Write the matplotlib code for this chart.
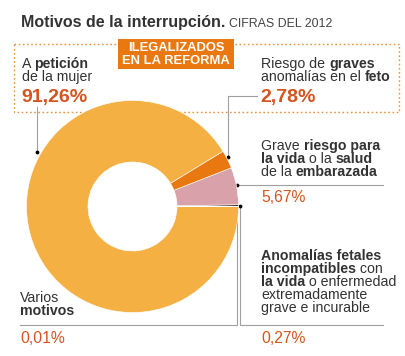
import matplotlib
matplotlib.use("Agg")
import matplotlib.pyplot as plt
from matplotlib.patches import Rectangle

# ---- data ----
categories = ["Anomalías fetales incompatibles", "Grave riesgo embarazada",
              "Riesgo graves anomalías feto", "A petición de la mujer", "Varios motivos"]
values = [0.27, 5.67, 2.78, 91.26, 0.01]
value_labels = ["0,27%", "5,67%", "2,78%", "91,26%", "0,01%"]
colors = ["#3b2f28", "#D9A1A9", "#EA7810", "#F5B043", "#3b2f28"]

FONT = "Liberation Sans"
DARK = "#333333"
RED = "#D4541F"
GRAY = "#A0A0A0"
W, H = 405, 356
BODY = 10.2

fig = plt.figure(figsize=(W / 100, H / 100), dpi=100)
bg = fig.add_axes([0, 0, 1, 1])
bg.set_xlim(0, W)
bg.set_ylim(H, 0)
bg.axis("off")

# pie axes: center (132.5, 206.5), radius 106
cx, cy, r = 132.5, 206.5, 106
pax = fig.add_axes([(cx - r) / W, (H - cy - r) / H, 2 * r / W, 2 * r / H])
pax.pie(values, colors=colors, startangle=0, counterclock=True,
        wedgeprops=dict(width=0.58, edgecolor="white", linewidth=0.4), radius=1.0)
pax.set_xlim(-1, 1)
pax.set_ylim(-1, 1)
pax.set_aspect("equal")
pax.axis("off")

renderer = fig.canvas.get_renderer()


def rich(x, y, segments, size=BODY, color=DARK):
    for txt, bold in segments:
        t = bg.text(x, y, txt, fontsize=size, fontfamily=FONT, color=color,
                    fontweight="bold" if bold else "normal", va="baseline", ha="left")
        x += t.get_window_extent(renderer).width


# title
rich(21, 27, [("Motivos de la interrupción.", True)], size=11.5, color=DARK)
bg.text(229, 27, "CIFRAS DEL 2012", fontsize=8.9, fontfamily=FONT, color="#444444", va="baseline")

# dotted box
bg.add_patch(Rectangle((14, 44), 385, 68, fill=False, edgecolor="#E8913E",
                       linestyle=(0, (1.2, 1.8)), linewidth=1.0))
# orange label box
bg.add_patch(Rectangle((118, 39), 116, 30, facecolor="#EA7810", edgecolor="none"))
bg.text(176, 51, "ILEGALIZADOS", fontsize=9.4, fontfamily=FONT, fontweight="bold",
        color="white", ha="center", va="baseline")
bg.text(176, 64.5, "EN LA REFORMA", fontsize=9.4, fontfamily=FONT, fontweight="bold",
        color="white", ha="center", va="baseline")

# A petición
rich(22, 68, [("A ", False), ("petición", True)])
rich(22, 81, [("de la mujer", False)])
bg.text(21, 102, value_labels[3], fontsize=14, fontfamily=FONT, fontweight="bold",
        color=RED, va="baseline")

# Riesgo de graves
rich(261, 68, [("Riesgo de ", False), ("graves", True)])
rich(261, 81, [("anomalías en el ", False), ("feto", True)])
bg.text(260, 102, value_labels[2], fontsize=14, fontfamily=FONT, fontweight="bold",
        color=RED, va="baseline")

# Grave riesgo
rich(261, 150, [("Grave ", False), ("riesgo para", True)])
rich(261, 163, [("la vida", True), (" o la ", False), ("salud", True)])
rich(261, 176, [("de la ", False), ("embarazada", True)])
bg.text(261, 202, value_labels[1], fontsize=11.3, fontfamily=FONT, color=RED, va="baseline")

# Anomalías fetales
rich(261, 260, [("Anomalías fetales", True)])
rich(261, 273, [("incompatibles", True), (" con", False)])
rich(261, 286, [("la vida", True), (" o enfermedad", False)])
rich(261, 299, [("extremadamente", False)])
rich(261, 312, [("grave e incurable", False)])
bg.text(261, 343, value_labels[0], fontsize=11.3, fontfamily=FONT, color=RED, va="baseline")

# Varios motivos
rich(20, 302, [("Varios", False)])
rich(20, 315, [("motivos", True)])
bg.text(20, 343, value_labels[4], fontsize=11.3, fontfamily=FONT, color=RED, va="baseline")

# leader lines
lw = 0.8
bg.plot([37, 37], [107, 152], color=GRAY, lw=lw)
bg.plot([228, 228, 257], [157, 96, 96], color=GRAY, lw=lw)
bg.plot([237, 383], [185, 185], color=GRAY, lw=lw)
bg.plot([240, 240, 383], [206, 325, 325], color=GRAY, lw=lw)
bg.plot([237, 237, 20], [207, 325, 325], color=GRAY, lw=lw)
bg.scatter([37, 228, 237, 240], [152, 157, 185, 206], s=3, color="black", zorder=5)

fig.savefig("out.png", dpi=100)
